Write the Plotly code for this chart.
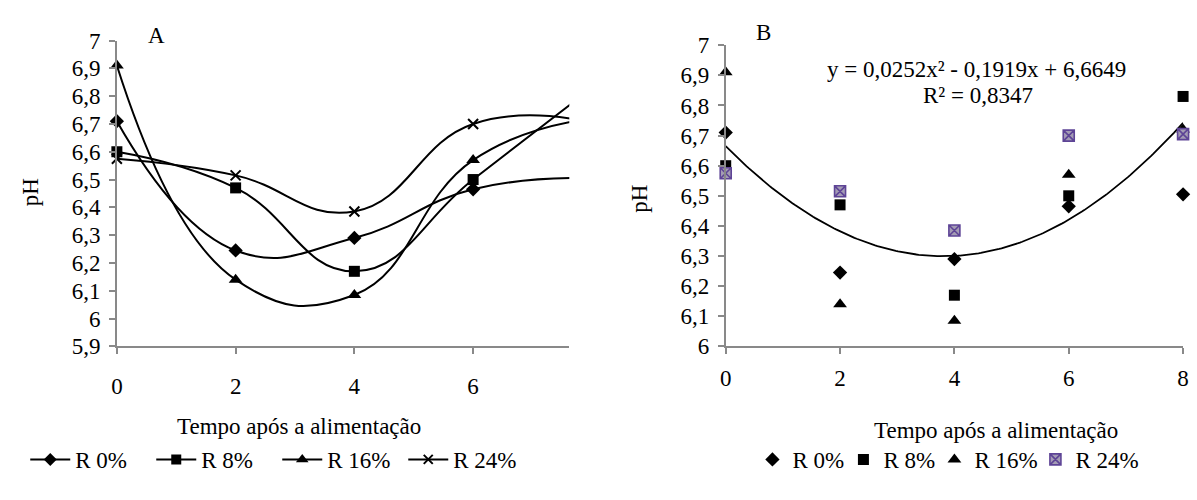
import plotly.graph_objects as go
import numpy as np

tempo = [0, 2, 4, 6, 8]
r0 = [6.71, 6.245, 6.29, 6.465, 6.505]
r8 = [6.60, 6.47, 6.17, 6.50, 6.83]
r16 = [6.91, 6.14, 6.085, 6.57, 6.72]
r24 = [6.575, 6.515, 6.385, 6.70, 6.705]
names = ["R 0%", "R 8%", "R 16%", "R 24%"]
series = [r0, r8, r16, r24]

# trendline coefficients (from the chart)
a2, a1, a0 = 0.0252, -0.1919, 6.6649
eq_text = "y = 0,0252x² - 0,1919x + 6,6649"
r2_text = "R² = 0,8347"

yticks_a = [5.9, 6.0, 6.1, 6.2, 6.3, 6.4, 6.5, 6.6, 6.7, 6.8, 6.9, 7.0]
yticks_b = [6.0, 6.1, 6.2, 6.3, 6.4, 6.5, 6.6, 6.7, 6.8, 6.9, 7.0]
xticks_a = [0, 2, 4, 6]
xticks_b = [0, 2, 4, 6, 8]

FONT = "Liberation Serif"
FS = 23
AX = "#898989"
xmax_a = 7.62

symA = ["diamond", "square", "triangle-up", "x-thin"]
sizeA = [11, 11, 12, 10]

fig = go.Figure()

# Panel A
for nm, ys, sym, sz in zip(names, series, symA, sizeA):
    mline = dict(width=2, color="black") if sym == "x-thin" else dict(width=0)
    fig.add_trace(go.Scatter(x=tempo, y=ys, mode="lines", line=dict(color="black", width=2, shape="spline", smoothing=1.3),
                             xaxis="x", yaxis="y", showlegend=False, hoverinfo="skip"))
    xs = [x for x in tempo if x <= xmax_a]
    fig.add_trace(go.Scatter(x=xs, y=ys[:len(xs)], mode="markers", cliponaxis=False,
                             marker=dict(symbol=sym, size=sz, color="black", line=mline),
                             xaxis="x", yaxis="y", showlegend=False))
    fig.add_trace(go.Scatter(x=[None], y=[None], mode="lines+markers", name=nm,
                             line=dict(color="black", width=2),
                             marker=dict(symbol=sym, size=sz - 1, color="black", line=mline),
                             xaxis="x", yaxis="y", legend="legend"))

# Panel B
xt = np.linspace(0, 8, 200)
fig.add_trace(go.Scatter(x=xt, y=a2 * xt ** 2 + a1 * xt + a0, mode="lines", line=dict(color="black", width=1.8),
                         xaxis="x2", yaxis="y2", showlegend=False, hoverinfo="skip"))
symB = ["diamond", "square", "triangle-up", "square-x"]
colB = ["black", "black", "black", "#a49cb4"]
lineB = [dict(width=0), dict(width=0), dict(width=0), dict(width=1.6, color="#5e4496")]
lwB = [46, 46, 56, 70]
for nm, ys, sym, c, ml, sz, lw in zip(names, series, symB, colB, lineB, [11, 11, 12, 11], lwB):
    fig.add_trace(go.Scatter(x=tempo, y=ys, mode="markers", cliponaxis=False, name=nm,
                             marker=dict(symbol=sym, size=sz, color=c, line=ml), legendwidth=lw,
                             xaxis="x2", yaxis="y2", legend="legend2"))

axcommon = dict(showline=True, linecolor=AX, linewidth=1.5, ticks="outside", tickcolor=AX, ticklen=6, tickwidth=1.5,
                showgrid=False, zeroline=False, tickfont=dict(family=FONT, size=FS, color="black"))

fig.update_layout(
    width=1197, height=500, margin=dict(l=0, r=0, t=0, b=0),
    paper_bgcolor="white", plot_bgcolor="white", separators=", ",
    font=dict(family=FONT, size=FS, color="black"),
    xaxis=dict(domain=[112 / 1197, 569 / 1197], range=[0, xmax_a], tickvals=xticks_a, anchor="y",
               ticklabelstandoff=12, **axcommon),
    yaxis=dict(domain=[1 - 352 / 500, 1 - 30 / 500], range=[5.9, 7.0], tickvals=yticks_a, tickformat=".1~f",
               anchor="x", ticklabelstandoff=4, **axcommon),
    xaxis2=dict(domain=[727 / 1197, 1189 / 1197], range=[0, 8], tickvals=xticks_b, anchor="y2",
                ticklabelstandoff=4, **axcommon),
    yaxis2=dict(domain=[1 - 352 / 500, 1 - 35 / 500], range=[6.0, 7.0], tickvals=yticks_b, tickformat=".1~f",
                anchor="x2", ticklabelstandoff=4, **axcommon),
    legend=dict(orientation="h", x=274 / 1197, xanchor="center", y=1 - 471 / 500, yanchor="middle",
                font=dict(family=FONT, size=FS), itemwidth=40, entrywidth=71, bgcolor="rgba(0,0,0,0)"),
    legend2=dict(orientation="h", x=955 / 1197, xanchor="center", y=1 - 471 / 500, yanchor="middle",
                 font=dict(family=FONT, size=FS), itemwidth=30, bgcolor="rgba(0,0,0,0)"),
)

ann = [
    dict(text="A", x=152, y=25),
    dict(text="B", x=765, y=22),
    dict(text="pH", x=25, y=190, textangle=-90),
    dict(text="pH", x=640, y=197, textangle=-90),
    dict(text="Tempo após a alimentação", x=296, y=436),
    dict(text="Tempo após a alimentação", x=1000, y=440),
    dict(text=eq_text, x=980, y=60),
    dict(text=r2_text, x=982, y=88),
]
for a in ann:
    fig.add_annotation(text=a["text"], x=a["x"] / 1197, y=1 - a["y"] / 500, xref="paper", yref="paper",
                       showarrow=False, xanchor="center", yanchor="middle", textangle=a.get("textangle", 0),
                       font=dict(family=FONT, size=FS, color="black"))

fig.write_html("out.html", config={"displayModeBar": False},
               post_script="document.body.style.margin='0';")
